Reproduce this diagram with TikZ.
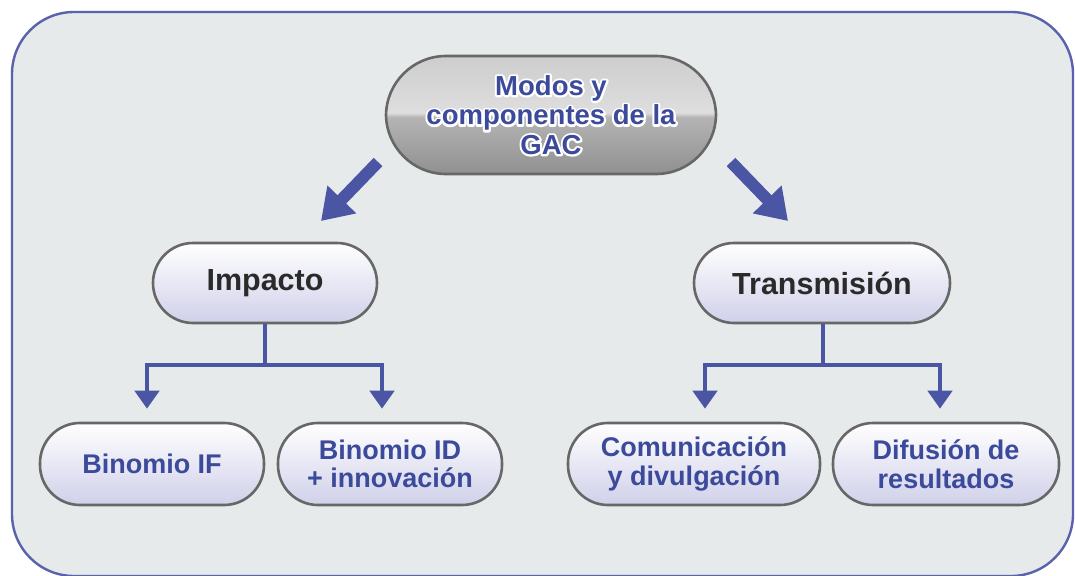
\documentclass[tikz,border=0pt]{standalone}
\usepackage{fontspec}
\setmainfont{Liberation Sans}
\usetikzlibrary{arrows.meta}
\definecolor{bgc}{HTML}{E6EAEB}
\definecolor{framec}{HTML}{5A62AC}
\definecolor{bluet}{HTML}{3B4A9A}
\definecolor{arrowc}{HTML}{4A55A4}
\definecolor{bordc}{HTML}{676767}
\definecolor{lav}{HTML}{D0D0EA}
\definecolor{darkt}{HTML}{2A2A2A}
\definecolor{gA}{HTML}{909090}
\definecolor{gB}{HTML}{B4B4B4}
\definecolor{gC}{HTML}{DEDEDE}
\definecolor{gD}{HTML}{CDCDCD}
\pgfdeclareverticalshading{glossy}{100bp}{color(0bp)=(gA); color(25bp)=(gA); color(49bp)=(gB); color(51bp)=(gC); color(75bp)=(gD); color(100bp)=(gD)}
\newcommand\glowline[1]{\leavevmode\rlap{\color{white}\special{pdf:literal direct 2 Tr 4.2 w 1 j}#1\special{pdf:literal direct 0 Tr}}#1}
\tikzset{
  pill/.style={draw=bordc, line width=2.6pt, top color=white, bottom color=lav,
    rounded corners=40pt, minimum height=80pt, inner sep=0pt, align=center,
    font=\bfseries\fontsize{27}{28.5}\selectfont},
  leaf/.style={pill, text=bluet},
  mid/.style={pill, text=darkt, font=\bfseries\fontsize{30.5}{32}\selectfont},
  topnode/.style={draw=bordc, line width=2.6pt, shading=glossy,
    rounded corners=60pt, minimum width=330pt, minimum height=118pt, inner sep=0pt,
    align=center, text=bluet, font=\bfseries\fontsize{27.5}{29.5}\selectfont},
  bigarrow/.style={draw=arrowc, line width=12pt,
    -{Triangle[width=38pt,length=30pt]}, arrowc},
  conn/.style={draw=arrowc, line width=4.5pt},
  connarr/.style={conn, -{Triangle[width=24pt,length=18pt]}}
}
\begin{document}
\begin{tikzpicture}[x=1pt,y=-1pt]
\useasboundingbox (0,0) rectangle (1075,575);
\fill[white] (0,0) rectangle (1075,575);
\draw[framec, line width=2.4pt, fill=bgc, rounded corners=62pt] (12,12) rectangle (1073,576);

\node[topnode] (top) at (551,115) {\glowline{Modos y}\\\glowline{componentes de la}\\\glowline{GAC}};

\node[mid, minimum width=224pt] (imp) at (265,283) {Impacto};
\node[mid, minimum width=256pt] (tra) at (822,283) {Transmisión};

\node[leaf, minimum width=224pt, minimum height=82pt] (bif) at (152,464) {Binomio IF};
\node[leaf, minimum width=224pt, minimum height=82pt] (bid) at (390,464) {Binomio ID\\+ innovación};
\node[leaf, minimum width=252pt, minimum height=82pt] (com) at (694,464) {Comunicación\\y divulgación};
\node[leaf, minimum width=226pt, minimum height=82pt] (dif) at (946,464) {Difusión de\\resultados};

% big arrows
\coordinate (la0) at (378,162);
\coordinate (la1) at (321,221);
\coordinate (ra0) at (731,162);
\coordinate (ra1) at (788,221);
\draw[bigarrow] (la0) -- (la1);
\draw[bigarrow] (ra0) -- (ra1);

% impacto branches
\coordinate (ji) at (265,365);
\draw[conn] (imp.south) -- (ji);
\draw[connarr] (ji) -| ([xshift=-5pt,yshift=13pt]bif.north);
\draw[connarr] (ji) -| ([xshift=-8pt,yshift=13pt]bid.north);

% transmision branches
\coordinate (jt) at (823,365);
\draw[conn] ([xshift=1pt]tra.south) -- (jt);
\draw[connarr] (jt) -| ([xshift=11pt,yshift=13pt]com.north);
\draw[connarr] (jt) -| ([xshift=-6pt,yshift=13pt]dif.north);
\end{tikzpicture}
\end{document}
